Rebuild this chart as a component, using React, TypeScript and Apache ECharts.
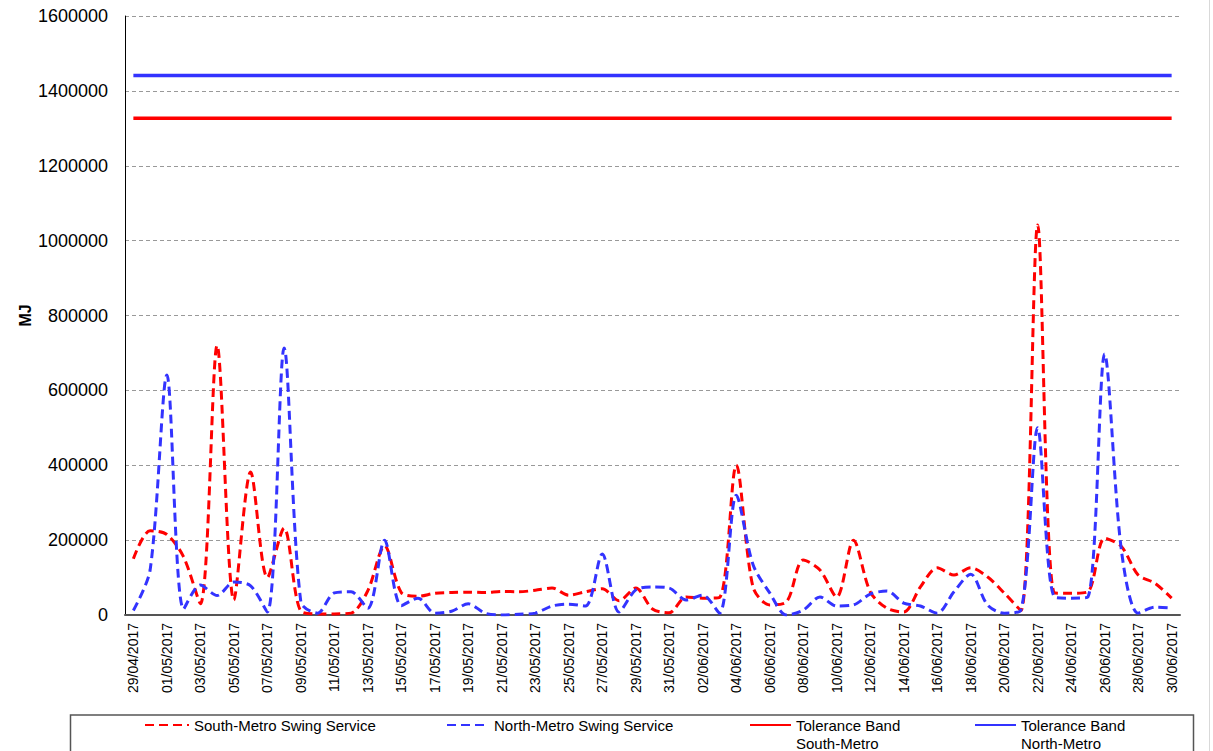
import React, { useEffect, useRef } from "react";
import * as echarts from "echarts";

const categories = [
  "29/04/2017", "30/04/2017", "01/05/2017", "02/05/2017", "03/05/2017", "04/05/2017", "05/05/2017",
  "06/05/2017", "07/05/2017", "08/05/2017", "09/05/2017", "10/05/2017", "11/05/2017", "12/05/2017",
  "13/05/2017", "14/05/2017", "15/05/2017", "16/05/2017", "17/05/2017", "18/05/2017", "19/05/2017",
  "20/05/2017", "21/05/2017", "22/05/2017", "23/05/2017", "24/05/2017", "25/05/2017", "26/05/2017",
  "27/05/2017", "28/05/2017", "29/05/2017", "30/05/2017", "31/05/2017", "01/06/2017", "02/06/2017",
  "03/06/2017", "04/06/2017", "05/06/2017", "06/06/2017", "07/06/2017", "08/06/2017", "09/06/2017",
  "10/06/2017", "11/06/2017", "12/06/2017", "13/06/2017", "14/06/2017", "15/06/2017", "16/06/2017",
  "17/06/2017", "18/06/2017", "19/06/2017", "20/06/2017", "21/06/2017", "22/06/2017", "23/06/2017",
  "24/06/2017", "25/06/2017", "26/06/2017", "27/06/2017", "28/06/2017", "29/06/2017", "30/06/2017",
];

const southMetro = [
  150000, 225000, 215000, 155000, 30000, 720000, 40000, 382000, 100000, 232000,
  10000, 3000, 3000, 5000, 65000, 185000, 60000, 50000, 58000, 60000,
  61000, 60000, 63000, 62000, 66000, 72000, 53000, 62000, 70000, 38000,
  72000, 16000, 6000, 48000, 45000, 47000, 400000, 75000, 27000, 35000,
  147000, 120000, 48000, 200000, 62000, 18000, 8000, 75000, 126000, 107000,
  126000, 102000, 59000, 12000, 1042000, 59000, 58000, 62000, 205000, 183000,
  107000, 85000, 45000,
];

const northMetro = [
  12000, 120000, 641000, 16000, 80000, 52000, 88000, 78000, 8000, 713000,
  35000, 5000, 59000, 62000, 18000, 200000, 25000, 45000, 5000, 10000,
  30000, 5000, 0, 2000, 5000, 24000, 29000, 24000, 163000, 8000,
  67000, 75000, 72000, 40000, 53000, 5000, 320000, 135000, 59000, 0,
  13000, 48000, 24000, 27000, 56000, 64000, 32000, 24000, 5000, 62000,
  109000, 27000, 5000, 13000, 500000, 48000, 45000, 48000, 697000, 173000,
  5000, 21000, 19000,
];

const SOUTH_TOLERANCE = 1327000;
const NORTH_TOLERANCE = 1441000;

const yTicks = { min: 0, max: 1600000, interval: 200000 };

const seriesNames = [
  "South-Metro Swing Service",
  "North-Metro Swing Service",
  "Tolerance Band\nSouth-Metro",
  "Tolerance Band\nNorth-Metro",
];

const FONT = "'Liberation Sans', Arial, Helvetica, sans-serif";
const RED = "#ff0000";
const BLUE = "#3333ff";

export default function App() {
  const ref = useRef<HTMLDivElement>(null);

  useEffect(() => {
    if (!ref.current) return;
    const chart = echarts.init(ref.current, null, { renderer: "svg" });

    const southBand = categories.map(() => SOUTH_TOLERANCE);
    const northBand = categories.map(() => NORTH_TOLERANCE);

    const legendBase = {
      orient: "horizontal",
      padding: 0,
      itemHeight: 14,
      selectedMode: false,
      itemStyle: { opacity: 0, color: "transparent", borderWidth: 0 },
    };
    const legendText = { fontFamily: FONT, fontSize: 15, color: "#000", lineHeight: 18 };

    chart.setOption({
      animation: false,
      backgroundColor: "#ffffff",
      grid: { left: 125, right: 33, top: 16, bottom: 136, containLabel: false, outerBoundsMode: "none" },
      legend: [
        { ...legendBase, data: [seriesNames[0]], left: 144, top: 716, itemWidth: 44, textStyle: legendText },
        { ...legendBase, data: [seriesNames[1]], left: 446, top: 716, itemWidth: 42, textStyle: legendText },
        {
          ...legendBase, data: [seriesNames[2]], left: 749, top: 698, itemWidth: 41, textStyle: legendText,
          formatter: (name: string) => "\n" + name,
        },
        {
          ...legendBase, data: [seriesNames[3]], left: 974, top: 698, itemWidth: 41, textStyle: legendText,
          formatter: (name: string) => "\n" + name,
        },
      ],
      xAxis: {
        type: "category",
        data: categories,
        boundaryGap: true,
        axisLine: { show: true, lineStyle: { color: "#555555", width: 2 } },
        axisTick: { show: false },
        axisLabel: {
          rotate: 90,
          interval: 1,
          fontFamily: FONT,
          fontSize: 14,
          color: "#000",
          margin: 8,
        },
        splitLine: { show: false },
      },
      yAxis: {
        type: "value",
        min: yTicks.min,
        max: yTicks.max,
        interval: yTicks.interval,
        name: "MJ",
        nameLocation: "middle",
        nameGap: 92,
        nameMoveOverlap: false,
        nameTextStyle: { fontFamily: FONT, fontSize: 16, fontWeight: "bold", color: "#000" },
        axisLine: { show: true, lineStyle: { color: "#000", width: 1 } },
        axisTick: { show: false },
        axisLabel: {
          fontFamily: FONT,
          fontSize: 18,
          color: "#000",
          margin: 17,
          formatter: (v: number) => String(v),
        },
        splitLine: { show: true, lineStyle: { color: "#999999", width: 1, type: [4, 3] } },
      },
      series: [
        {
          name: seriesNames[0],
          type: "line",
          data: southMetro,
          symbol: "none",
          smooth: 0.3,
          lineStyle: { color: RED, width: 3, type: [9, 5] },
          itemStyle: { color: RED },
          z: 4,
        },
        {
          name: seriesNames[1],
          type: "line",
          data: northMetro,
          symbol: "none",
          smooth: 0.3,
          lineStyle: { color: BLUE, width: 3, type: [9, 5] },
          itemStyle: { color: BLUE },
          z: 5,
        },
        {
          name: seriesNames[2],
          type: "line",
          data: southBand,
          symbol: "none",
          lineStyle: { color: RED, width: 3.5, type: "solid" },
          itemStyle: { color: RED },
          z: 3,
        },
        {
          name: seriesNames[3],
          type: "line",
          data: northBand,
          symbol: "none",
          lineStyle: { color: BLUE, width: 3.5, type: "solid" },
          itemStyle: { color: BLUE },
          z: 3,
        },
      ],
      graphic: [
        {
          type: "rect",
          shape: { x: 70.5, y: 715, width: 1123, height: 60 },
          style: { fill: "none", stroke: "#555555", lineWidth: 1.5 },
          silent: true,
          z: -1,
        },
        {
          type: "line",
          shape: { x1: 1209.5, y1: 0, x2: 1209.5, y2: 751 },
          style: { stroke: "#d9d9d9", lineWidth: 1 },
          silent: true,
        },
      ],
    });

    return () => chart.dispose();
  }, []);

  return (
    <div
      ref={ref}
      style={{ position: "absolute", left: 0, top: 0, width: 1213, height: 751, background: "#fff" }}
    />
  );
}
